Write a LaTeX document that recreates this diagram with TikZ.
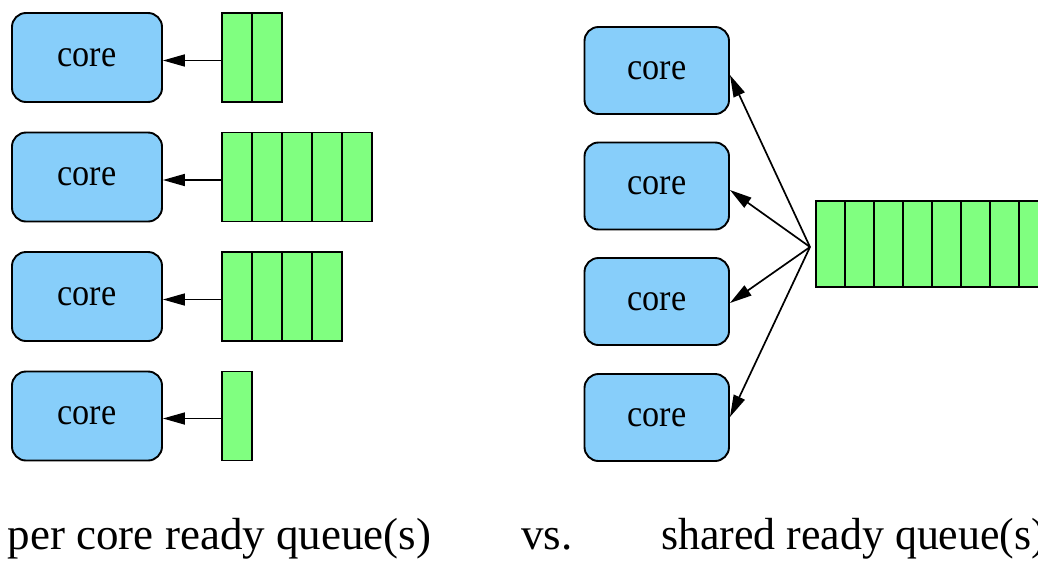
\documentclass[tikz,border=0pt]{standalone}
\usepackage{fontspec}
\usepackage{graphicx}
\setmainfont{Liberation Serif}
\usetikzlibrary{arrows.meta}
\definecolor{coreblue}{RGB}{135,206,250}
\definecolor{qgreen}{RGB}{128,255,128}
\tikzset{
  corebox/.style={draw=black, line width=1.9pt, fill=coreblue, rounded corners=14pt, inner sep=0pt},
  lcore/.style={corebox, minimum width=150pt, minimum height=89pt},
  rcore/.style={corebox, minimum width=144.5pt, minimum height=87pt},
  lcell/.style={draw=black, line width=1.9pt, fill=qgreen, minimum width=30pt, minimum height=89pt, inner sep=0pt, anchor=west},
  rcell/.style={draw=black, line width=1.9pt, fill=qgreen, minimum width=29pt, minimum height=86pt, inner sep=0pt, anchor=west},
  arr/.style={draw=black, line width=1.7pt, -{Triangle[length=22pt,width=12pt]}},
  caption/.style={anchor=base west, inner sep=0pt, font=\fontsize{45}{54}\selectfont}
}
\newcommand{\coretext}{\fontsize{38}{40}\selectfont\scalebox{0.9}[1]{core}}
\begin{document}
\begin{tikzpicture}[x=1pt,y=-1pt]
\useasboundingbox (0,0) rectangle (1038,560);
\clip (0,0) rectangle (1038,560);
% left cores
\node[lcore] (c1) at (87,57.5) {\coretext};
\node[lcore] (c2) at (87,177) {\coretext};
\node[lcore] (c3) at (87,296.5) {\coretext};
\node[lcore] (c4) at (87,416) {\coretext};
% left queues
\foreach \i in {1,...,2} \node[lcell] (qa\i) at (221+30*\i-30,57.5) {};
\foreach \i in {1,...,5} \node[lcell] (qb\i) at (221+30*\i-30,177) {};
\foreach \i in {1,...,4} \node[lcell] (qc\i) at (221+30*\i-30,296.5) {};
\node[lcell] (qd1) at (221,416) {};
\draw[arr] ([yshift=-3pt]qa1.west) -- ([yshift=-3pt]c1.east);
\draw[arr] ([yshift=-3pt]qb1.west) -- ([yshift=-3pt]c2.east);
\draw[arr] ([yshift=-3pt]qc1.west) -- ([yshift=-3pt]c3.east);
\draw[arr] ([yshift=-2.5pt]qd1.west) -- ([yshift=-2.5pt]c4.east);
% right cores
\node[rcore] (r1) at (656.75,70.5) {\coretext};
\node[rcore] (r2) at (656.75,186) {\coretext};
\node[rcore] (r3) at (656.75,301.5) {\coretext};
\node[rcore] (r4) at (656.75,417.5) {\coretext};
% shared queue
\foreach \i in {1,...,9} \node[rcell] (s\i) at (815+29*\i-29,244) {};
\coordinate (fan) at (810,247);
\draw[arr] (fan) -- ([yshift=-4.5pt]r1.east);
\draw[arr] (fan) -- ([yshift=-4pt]r2.east);
\draw[arr] (fan) -- ([yshift=-1.5pt]r3.east);
\draw[arr] (fan) -- ([yshift=0.5pt]r4.east);
% captions
\node[caption] (t1) at (7.5,549.5) {per core ready queue(s)};
\node[caption] (t2) at (521,549.5) {vs.};
\node[caption] (t3) at (661,549.5) {\scalebox{0.975}[1]{shared ready queue(s)}};
\end{tikzpicture}
\end{document}
